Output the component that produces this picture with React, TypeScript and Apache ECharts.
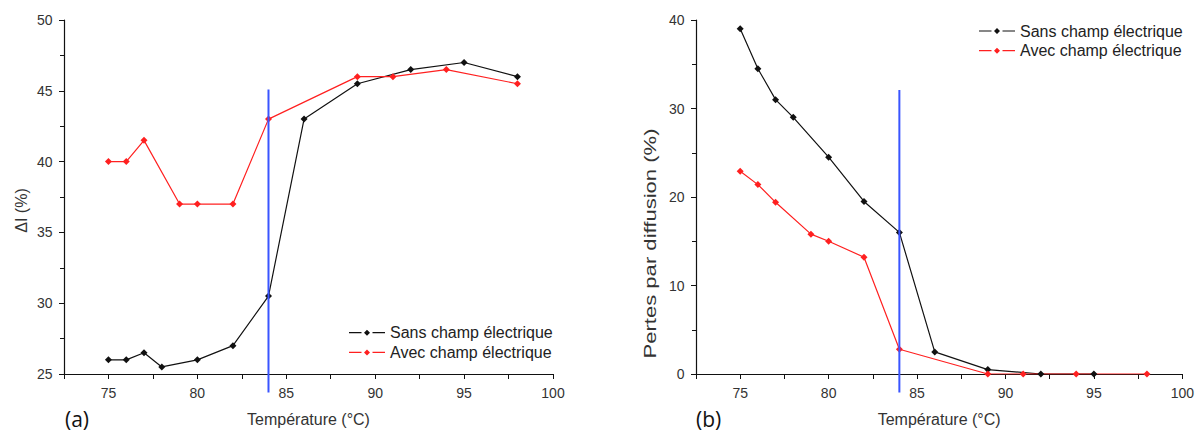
import React, { useEffect, useRef } from "react";
import * as echarts from "echarts";

const tempsA_sans = [75, 76, 77, 78, 80, 82, 84, 86, 89, 92, 95, 98];
const valsA_sans = [26, 26, 26.5, 25.5, 26, 27, 30.5, 43, 45.5, 46.5, 47, 46];
const tempsA_avec = [75, 76, 77, 79, 80, 82, 84, 89, 91, 94, 98];
const valsA_avec = [40, 40, 41.5, 37, 37, 37, 43, 46, 46, 46.5, 45.5];

const tempsB_sans = [75, 76, 77, 78, 80, 82, 84, 86, 89, 92, 95];
const valsB_sans = [39, 34.5, 31, 29, 24.5, 19.5, 16, 2.5, 0.5, 0, 0];
const tempsB_avec = [75, 76, 77, 79, 80, 82, 84, 89, 91, 94, 98];
const valsB_avec = [22.9, 21.4, 19.4, 15.8, 15, 13.2, 2.8, 0, 0, 0, 0];

const transitionTemp = 84;
const blueA = [45.1, 23.7];
const blueB = [32.1, -2.1];

const SANS = "Sans champ électrique";
const AVEC = "Avec champ électrique";
const FONT = "'Liberation Sans', Arial, sans-serif";
const LEGEND_ICON =
  "path://M0,2.4H12.5V3.6H0Z M18,0L21,3L18,6L15,3Z M23.5,2.4H36V3.6H23.5Z";

const zip = (xs: number[], ys: number[]) => xs.map((x, i) => [x, ys[i]]);

export default function App() {
  const ref = useRef<HTMLDivElement>(null);
  useEffect(() => {
    if (!ref.current) return;
    const chart = echarts.init(ref.current, undefined, { renderer: "svg" });
    const xAxisBase = (gi: number) => ({
      type: "value" as const,
      gridIndex: gi,
      min: 72.5,
      max: 100,
      interval: 2.5,
      axisLine: { show: true, lineStyle: { color: "#111", width: 1.2 } },
      axisTick: { show: true, length: 5, lineStyle: { color: "#111" } },
      splitLine: { show: false },
      axisLabel: {
        color: "#333",
        fontSize: 14,
        fontFamily: FONT,
        margin: 12,
        formatter: (v: number) => (v % 5 === 0 ? String(v) : ""),
      },
      name: "Température (°C)",
      nameLocation: "middle" as const,
      nameGap: 37,
      nameTextStyle: { color: "#333", fontSize: 16, fontFamily: FONT },
    });
    const yAxisBase = (gi: number, min: number, max: number, interval: number) => ({
      type: "value" as const,
      gridIndex: gi,
      min,
      max,
      interval,
      axisLine: { show: true, lineStyle: { color: "#111", width: 1.2 } },
      axisTick: { show: true, length: 5, lineStyle: { color: "#111" } },
      minorTick: { show: true, splitNumber: 2, length: 4, lineStyle: { color: "#111" } },
      splitLine: { show: false },
      axisLabel: { color: "#333", fontSize: 14, fontFamily: FONT, margin: 11.5 },
    });
    const lineSeries = (name: string, color: string, gi: number, data: number[][]) => ({
      type: "line" as const,
      name,
      xAxisIndex: gi,
      yAxisIndex: gi,
      data,
      symbol: "diamond",
      symbolSize: 7,
      showAllSymbol: true,
      lineStyle: { color, width: 1.2 },
      itemStyle: { color },
      z: 3,
    });
    const blueLine = (gi: number, ys: number[]) => ({
      type: "line" as const,
      name: "transition",
      xAxisIndex: gi,
      yAxisIndex: gi,
      data: ys.map((y) => [transitionTemp, y]),
      symbol: "none",
      clip: false,
      lineStyle: { color: "#3a55ff", width: 2 },
      z: 4,
    });
    const legend = (left: number, top: number) => ({
      left,
      top,
      padding: 0,
      orient: "vertical" as const,
      data: [SANS, AVEC],
      icon: LEGEND_ICON,
      itemWidth: 36,
      itemHeight: 6,
      itemGap: 3.7,
      itemStyle: { borderWidth: 0 },
      textStyle: { color: "#222", fontSize: 16, lineHeight: 16, fontFamily: FONT },
      selectedMode: false,
    });
    const yName = (x: number, y: number, text: string, stretch: number) => ({
      type: "text",
      x,
      y,
      rotation: Math.PI / 2,
      scaleX: stretch,
      style: {
        text,
        fill: "#333",
        fontSize: 16,
        fontFamily: FONT,
        align: "center",
        verticalAlign: "middle",
      },
    });
    chart.setOption({
      animation: false,
      backgroundColor: "#fff",
      grid: [
        { left: 64, right: 644, top: 20, bottom: 54 },
        { left: 696, right: 14, top: 20, bottom: 54 },
      ],
      xAxis: [xAxisBase(0), xAxisBase(1)],
      yAxis: [yAxisBase(0, 25, 50, 5), yAxisBase(1, 0, 40, 10)],
      legend: [legend(349, 324.7), legend(979, 23)],
      series: [
        lineSeries(SANS, "#111", 0, zip(tempsA_sans, valsA_sans)),
        lineSeries(AVEC, "#ff2020", 0, zip(tempsA_avec, valsA_avec)),
        blueLine(0, blueA),
        lineSeries(SANS, "#111", 1, zip(tempsB_sans, valsB_sans)),
        lineSeries(AVEC, "#ff2020", 1, zip(tempsB_avec, valsB_avec)),
        blueLine(1, blueB),
      ],
      graphic: [
        yName(21, 210.5, "ΔI (%)", 1),
        yName(650.5, 243.5, "Pertes par diffusion (%)", 1.38),
        {
          type: "text",
          x: 65,
          y: 408,
          style: { text: "(a)", fill: "#111", fontSize: 21, fontFamily: "'Open Sans', sans-serif" },
        },
        {
          type: "text",
          x: 696,
          y: 408,
          style: { text: "(b)", fill: "#111", fontSize: 21, fontFamily: "'Open Sans', sans-serif" },
        },
      ],
    });
    return () => chart.dispose();
  }, []);
  return <div ref={ref} style={{ width: 1197, height: 432, position: "absolute", left: 0, top: 0 }} />;
}
